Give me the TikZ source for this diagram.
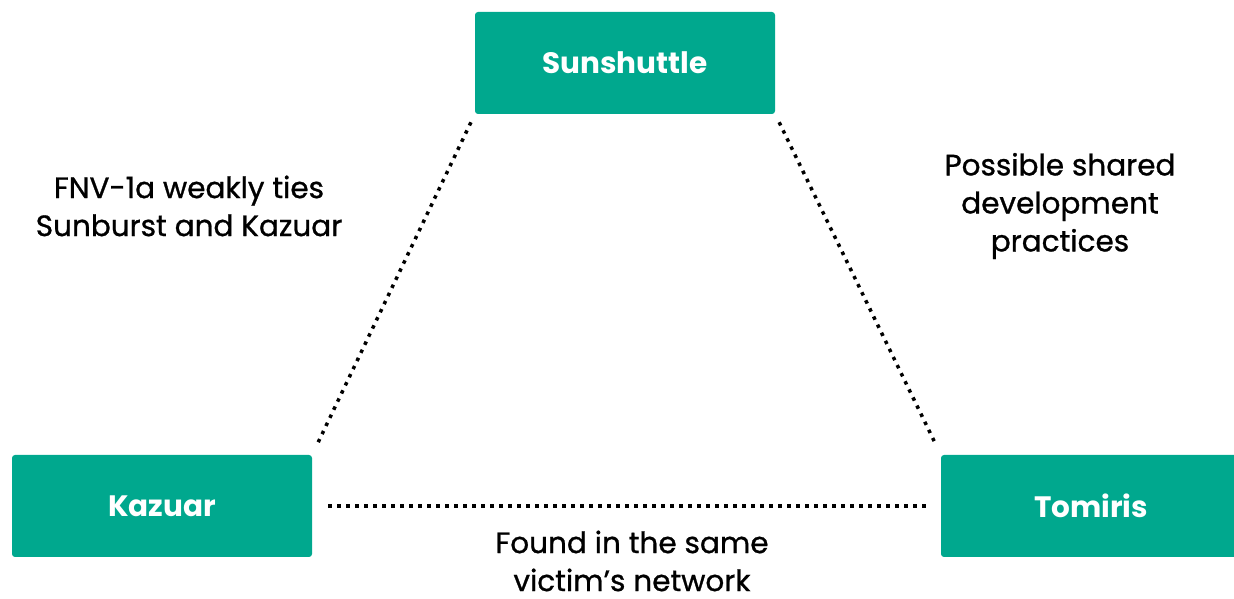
\documentclass[tikz,border=0pt]{standalone}
\usepackage{fontspec}
\setmainfont{Poppins}
\newfontfamily\notefont{Poppins}[FakeBold=0.9]
\definecolor{kgreen}{RGB}{0,168,142}

\begin{document}
\begin{tikzpicture}[x=1pt, y=1pt,
    box/.style={fill=kgreen, rounded corners=3pt, minimum width=300pt, minimum height=102pt,
      text=white, font=\fontsize{29.5}{34}\selectfont\bfseries},
    tie/.style={line width=3.5pt, dash pattern=on 3.5pt off 5.5pt},
    note/.style={align=center, font=\notefont\fontsize{29.5}{38}\selectfont}]
    \useasboundingbox (0,0) rectangle (1234,599);
    \node[box] (sun) at (625,536) {Sunshuttle};
    \node[box] (kaz) at (162,93) {Kazuar};
    \node[box] (tom) at (1091,93) {Tomiris};

    \draw[tie, shorten <=9pt, shorten >=14pt] (sun.south west) -- (kaz.north east);
    \draw[tie, shorten <=9pt, shorten >=14pt] (sun.south east) -- (tom.north west);
    \draw[tie, shorten <=16pt, shorten >=13pt] (kaz.east) -- (tom.west);

    \node[note] (fnv) at (189,393) {FNV-1a weakly ties\\Sunburst and Kazuar};
    \node[note] (dev) at (1060,393) {Possible shared\\development\\practices};
    \node[note] (vic) at (632,38) {Found in the same\\victim’s network};
  \end{tikzpicture}
\end{document}
